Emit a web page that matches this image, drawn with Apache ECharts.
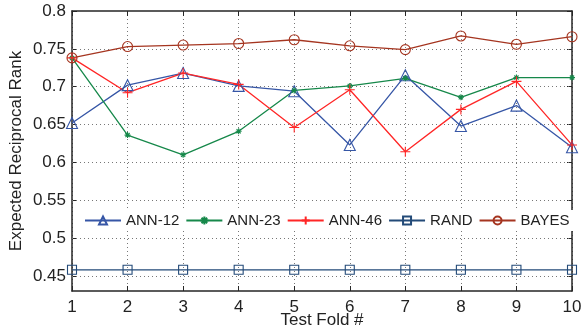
<!DOCTYPE html>
<html>
<head>
<meta charset="utf-8">
<script src="https://cdn.jsdelivr.net/npm/echarts@6/dist/echarts.min.js"></script>
<style>html,body{margin:0;padding:0;background:#fff}#c{width:582px;height:329px}</style>
</head>
<body>
<div id="c"></div>
<script>
const folds = [1,2,3,4,5,6,7,8,9,10];
const yTicks = [0.45,0.5,0.55,0.6,0.65,0.7,0.75,0.8];
const ann12 = [0.652,0.702,0.718,0.701,0.694,0.623,0.715,0.648,0.675,0.620];
const ann23 = [0.738,0.636,0.610,0.641,0.695,0.701,0.711,0.686,0.712,0.712];
const ann46 = [0.738,0.692,0.718,0.703,0.646,0.696,0.614,0.670,0.707,0.623];
const rand  = [0.458,0.458,0.458,0.458,0.458,0.458,0.458,0.458,0.458,0.458];
const bayes = [0.738,0.753,0.755,0.757,0.762,0.754,0.749,0.767,0.756,0.766];
const names = ['ANN-12','ANN-23','ANN-46','RAND','BAYES'];

const FONT = '"Liberation Sans", Arial, Helvetica, sans-serif';
const AX = '#262626';
const TXT = '#222';
const pair = arr => folds.map((f,i)=>[f,arr[i]]);
const plusPath = 'path://M0,5L10,5M5,0L5,10';
const starPath = 'path://M0,5L10,5M5,0L5,10M1.5,1.5L8.5,8.5M8.5,1.5L1.5,8.5';

function mk(name, data, color, symbol, size, extra){
  return Object.assign({
    name, type:'line', data: pair(data), symbol, symbolSize:size,
    lineStyle:{color, width:1.3},
    itemStyle:{color:'rgba(255,255,255,0)', borderColor:color, borderWidth:1.1},
    emphasis:{disabled:true}, animation:false, z:3
  }, extra || {});
}

const chart = echarts.init(document.getElementById('c'), null, {renderer:'canvas'});
chart.setOption({
  animation:false,
  textStyle:{fontFamily:FONT},
  grid:{left:72,right:10,top:11,bottom:38,containLabel:false,outerBoundsMode:'none'},
  legend:{
    data:names, left:80, top:210, orient:'horizontal',
    itemWidth:36, itemHeight:10, itemGap:6,
    padding:[3,4], backgroundColor:'#fff',
    textStyle:{fontFamily:FONT,fontSize:15,color:TXT}
  },
  xAxis:[{
    type:'value', min:1, max:10, interval:1, position:'bottom',
    name:'Test Fold #', nameLocation:'middle', nameGap:21, nameMoveOverlap:false,
    nameTextStyle:{fontFamily:FONT,fontSize:17,color:TXT,verticalAlign:'top',lineHeight:17},
    axisLine:{show:true,onZero:false,lineStyle:{color:AX,width:1.5}},
    axisTick:{show:true,inside:true,length:5,lineStyle:{color:AX}},
    axisLabel:{fontFamily:FONT,fontSize:17,color:TXT,margin:8},
    splitLine:{show:true,lineStyle:{type:[1,3],color:'#777',width:1}}
  },{
    type:'value', min:1, max:10, interval:1, position:'top',
    axisLine:{show:true,onZero:false,lineStyle:{color:AX,width:1.5}},
    axisTick:{show:true,inside:true,length:5,lineStyle:{color:AX}},
    axisLabel:{show:false}, splitLine:{show:false}
  }],
  yAxis:[{
    type:'value', min:0.43, max:0.8, position:'left',
    name:'Expected Reciprocal Rank', nameLocation:'middle', nameGap:47, nameMoveOverlap:false,
    nameTextStyle:{fontFamily:FONT,fontSize:17,color:TXT},
    axisLine:{show:true,onZero:false,lineStyle:{color:AX,width:1.5}},
    axisTick:{show:true,inside:true,length:5,customValues:yTicks,lineStyle:{color:AX}},
    axisLabel:{fontFamily:FONT,fontSize:17,color:TXT,margin:6,customValues:yTicks,
      formatter:v=>String(parseFloat(v.toFixed(2)))},
    splitLine:{show:false}
  },{
    type:'value', min:0.43, max:0.8, position:'right',
    axisLine:{show:true,onZero:false,lineStyle:{color:AX,width:1.5}},
    axisTick:{show:true,inside:true,length:5,customValues:yTicks,lineStyle:{color:AX}},
    axisLabel:{show:false}, splitLine:{show:false}
  }],
  series:[
    mk('ANN-12', ann12, '#3656a6', 'triangle', 11),
    mk('ANN-23', ann23, '#16884a', starPath, 6),
    mk('ANN-46', ann46, '#ff2626', plusPath, 10),
    mk('RAND', rand, '#234a78', 'rect', 9, {
      markLine:{
        silent:true, symbol:'none', animation:false, z:1,
        label:{show:false},
        emphasis:{disabled:true},
        lineStyle:{type:[1,3],color:'#777',width:1},
        data: yTicks.filter(v=>v<0.8).map(v=>({yAxis:v}))
      }
    }),
    mk('BAYES', bayes, '#a53520', 'circle', 10)
  ]
});
</script>
</body>
</html>
